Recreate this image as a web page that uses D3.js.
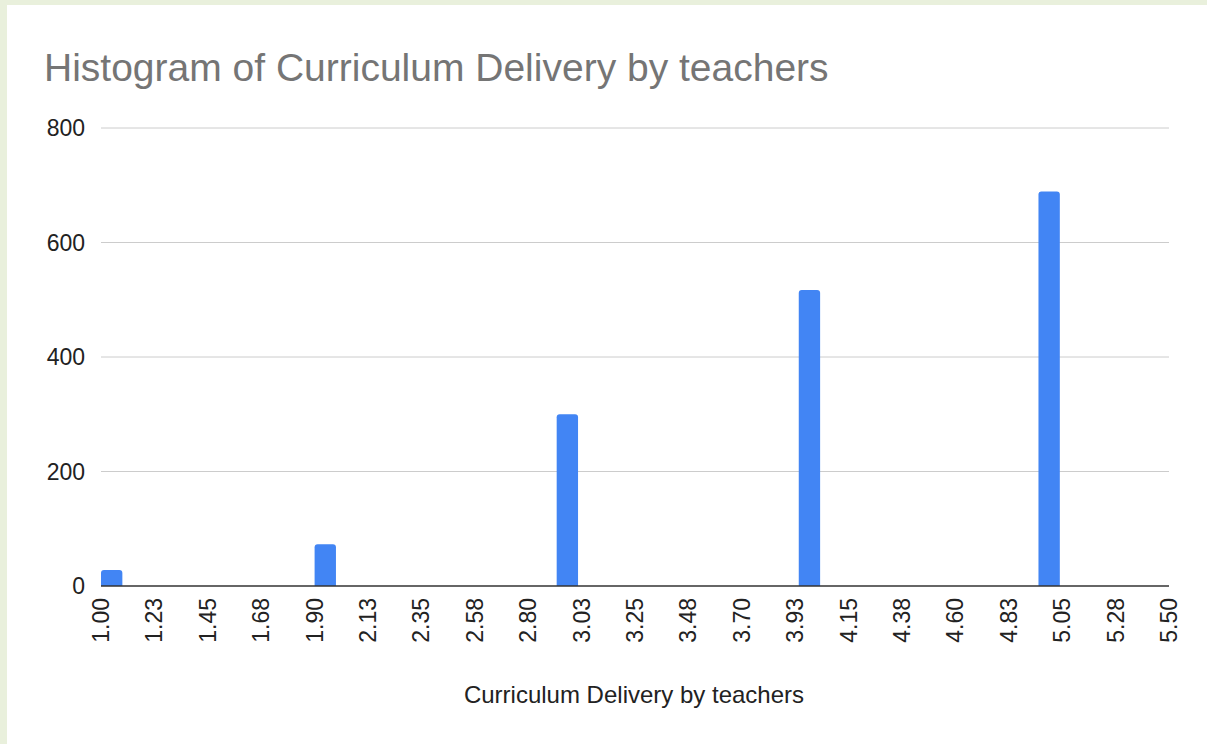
<!DOCTYPE html>
<html><head><meta charset="utf-8">
<script src="https://cdn.jsdelivr.net/npm/d3@7"></script>
<style>
html,body{margin:0;padding:0;background:#e9f0dc;}
svg{display:block;}
</style></head>
<body>
<script>
const binStarts = [1.00, 1.90, 2.92, 3.94, 4.95];
const counts = [28, 73, 300, 517, 689];
const binWidth = 0.09;
const xTickLabels = ["1.00","1.23","1.45","1.68","1.90","2.13","2.35","2.58","2.80","3.03","3.25","3.48","3.70","3.93","4.15","4.38","4.60","4.83","5.05","5.28","5.50"];
const yTicks = [0, 200, 400, 600, 800];
const chartTitle = "Histogram of Curriculum Delivery by teachers";
const xTitle = "Curriculum Delivery by teachers";

(function () {
const W = 1207, H = 744;
const svg = d3.select("body").append("svg").attr("width", W).attr("height", H);
svg.append("rect").attr("x", 0).attr("y", 0).attr("width", W).attr("height", H).attr("fill", "#e9f0dc");
svg.append("rect").attr("x", 7).attr("y", 5).attr("width", W - 7).attr("height", H - 5).attr("fill", "#ffffff");

const mL = 101, mR = 1169, mT = 128, mB = 586;
const x = d3.scaleLinear().domain([1.0, 5.5]).range([mL, mR]);
const y = d3.scaleLinear().domain([0, 800]).range([mB, mT]);
const font = "Liberation Sans, Arial, sans-serif";
const tickSize = 23;

// gridlines
svg.append("g").selectAll("line").data(yTicks.filter(d => d > 0)).join("line")
  .attr("x1", mL).attr("x2", mR)
  .attr("y1", d => y(d)).attr("y2", d => y(d))
  .attr("stroke", "#cccccc").attr("stroke-width", 1);

// y labels
svg.append("g").selectAll("text").data(yTicks).join("text")
  .attr("x", 85).attr("y", d => y(d) + 8)
  .attr("text-anchor", "end")
  .attr("font-family", font)
  .attr("font-size", tickSize).attr("fill", "#222")
  .text(d => d);

// bars with rounded top
const r = 3;
svg.append("g").selectAll("path").data(binStarts.map((s, i) => ({s, c: counts[i]}))).join("path")
  .attr("fill", "#4285f4")
  .attr("d", d => {
    const x0 = x(d.s), x1 = x(d.s + binWidth), y0 = y(d.c), yb = y(0);
    return `M${x0},${yb} L${x0},${y0 + r} Q${x0},${y0} ${x0 + r},${y0} L${x1 - r},${y0} Q${x1},${y0} ${x1},${y0 + r} L${x1},${yb} Z`;
  });

// baseline
svg.append("line").attr("x1", mL).attr("x2", mR).attr("y1", mB).attr("y2", mB)
  .attr("stroke", "#333").attr("stroke-width", 1.5);

// x tick labels
svg.append("g").selectAll("text").data(xTickLabels).join("text")
  .attr("transform", (d, i) => `translate(${x(1 + i * 0.225) + 8},598) rotate(-90)`)
  .attr("text-anchor", "end")
  .attr("font-family", font)
  .attr("font-size", tickSize).attr("fill", "#222")
  .text(d => d);

// title
svg.append("text").attr("x", 44).attr("y", 81)
  .attr("font-family", font)
  .attr("font-size", 39).attr("fill", "#757575")
  .text(chartTitle);

// x axis title
svg.append("text").attr("x", 634).attr("y", 703)
  .attr("text-anchor", "middle")
  .attr("font-family", font)
  .attr("font-size", 24).attr("fill", "#222")
  .text(xTitle);
})();
</script>
</body></html>
